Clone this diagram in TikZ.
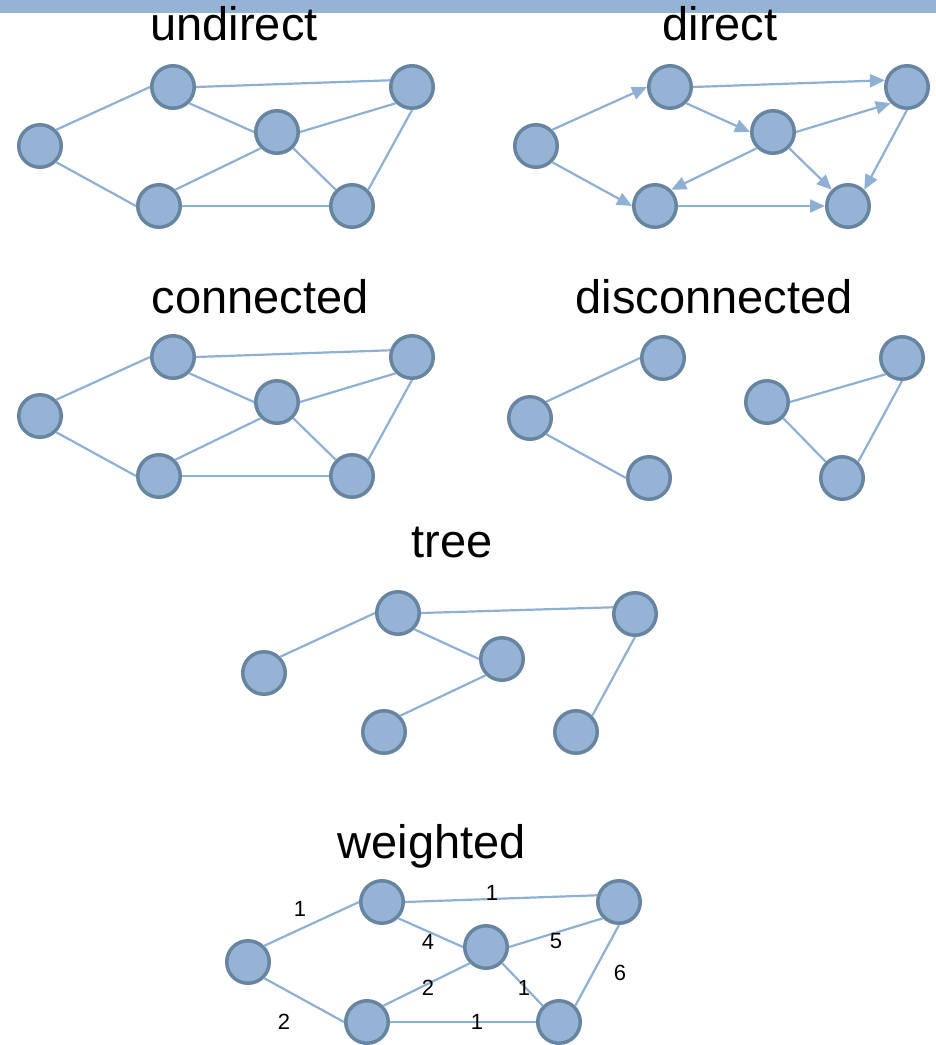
\documentclass[tikz,border=0pt]{standalone}
\usepackage{fontspec}
\setmainfont{Liberation Sans}
\usetikzlibrary{arrows.meta}
\definecolor{nodefill}{RGB}{149,179,213}
\definecolor{nodeline}{RGB}{103,133,161}
\definecolor{edgecol}{RGB}{143,176,210}

\begin{document}
\begin{tikzpicture}[x=1pt,y=-1pt,
  vtx/.style={circle, fill=nodefill, draw=nodeline, line width=3.5pt,
              minimum size=42.5pt, inner sep=0pt},
  link/.style={draw=edgecol, line width=2.2pt},
  darc/.style={link, -{Triangle[length=15pt,width=13pt]}},
  heading/.style={font=\fontsize{47}{56}\selectfont, anchor=base, inner sep=0pt},
  wlabel/.style={font=\fontsize{22}{26}\selectfont, inner sep=0pt}]

\useasboundingbox (0,0) rectangle (936,1045);
\fill[nodefill] (0,0) rectangle (936,13);

% headings
\node[heading] (h1) at (234,40) {undirect};
\node[heading] (h2) at (720,40) {direct};
\node[heading] (h3) at (260,313) {connected};
\node[heading] (h4) at (714,313) {disconnected};
\node[heading] (h5) at (452,557) {tree};
\node[heading] (h6) at (432,858) {weighted};

% undirected graph (edges attach at compass points of the circles)
\node[vtx] (u1) at (40,146) {};
\node[vtx] (u2) at (173,87) {};
\node[vtx] (u3) at (277,132) {};
\node[vtx] (u4) at (412,87) {};
\node[vtx] (u5) at (159,206) {};
\node[vtx] (u6) at (352,206) {};
\draw[link] (u1.north east) -- (u2.west);
\draw[link] (u1.south east) -- (u5.west);
\draw[link] (u2.east) -- (u4.163);
\draw[link] (u2.south east) -- (u3.west);
\draw[link] (u3.east) -- (u4.south west);
\draw[link] (u3.south west) -- (u5.north east);
\draw[link] (u3.south east) -- (u6.north west);
\draw[link] (u4.south) -- (u6.north east);
\draw[link] (u5.east) -- (u6.west);

% directed graph
\node[vtx] (d1) at (536,146) {};
\node[vtx] (d2) at (670,87) {};
\node[vtx] (d3) at (773,132) {};
\node[vtx] (d4) at (907,87) {};
\node[vtx] (d5) at (655,206) {};
\node[vtx] (d6) at (848,206) {};
\draw[darc] (d1.north east) -- (d2.west);
\draw[darc] (d1.south east) -- (d5.west);
\draw[darc] (d2.east) -- (d4.163);
\draw[darc] (d2.south east) -- (d3.west);
\draw[darc] (d3.east) -- (d4.south west);
\draw[darc] (d3.south west) -- (d5.north east);
\draw[darc] (d3.south east) -- (d6.north west);
\draw[darc] (d4.south) -- (d6.north east);
\draw[darc] (d5.east) -- (d6.west);

% connected graph
\node[vtx] (c1) at (40,416) {};
\node[vtx] (c2) at (173,357) {};
\node[vtx] (c3) at (277,402) {};
\node[vtx] (c4) at (412,357) {};
\node[vtx] (c5) at (159,476) {};
\node[vtx] (c6) at (352,476) {};
\draw[link] (c1.north east) -- (c2.west);
\draw[link] (c1.south east) -- (c5.west);
\draw[link] (c2.east) -- (c4.163);
\draw[link] (c2.south east) -- (c3.west);
\draw[link] (c3.east) -- (c4.south west);
\draw[link] (c3.south west) -- (c5.north east);
\draw[link] (c3.south east) -- (c6.north west);
\draw[link] (c4.south) -- (c6.north east);
\draw[link] (c5.east) -- (c6.west);

% disconnected graph: two components
\node[vtx] (p1) at (530,418) {};
\node[vtx] (p2) at (663,358) {};
\node[vtx] (p3) at (649,478) {};
\node[vtx] (q1) at (767,402) {};
\node[vtx] (q2) at (902,358) {};
\node[vtx] (q3) at (842,478) {};
\draw[link] (p1.north east) -- (p2.west);
\draw[link] (p1.south east) -- (p3.west);
\draw[link] (q1.east) -- (q2.south west);
\draw[link] (q1.south east) -- (q3.north west);
\draw[link] (q2.south) -- (q3.north east);

% tree
\node[vtx] (t1) at (264,673) {};
\node[vtx] (t2) at (398,613) {};
\node[vtx] (t3) at (502,659) {};
\node[vtx] (t4) at (635,614) {};
\node[vtx] (t5) at (384,732) {};
\node[vtx] (t6) at (576,732) {};
\draw[link] (t1.north east) -- (t2.west);
\draw[link] (t2.east) -- (t4.163);
\draw[link] (t2.south east) -- (t3.west);
\draw[link] (t3.south west) -- (t5.north east);
\draw[link] (t4.south) -- (t6.north east);

% weighted graph
\node[vtx] (w1) at (248,962) {};
\node[vtx] (w2) at (382,902) {};
\node[vtx] (w3) at (486,947) {};
\node[vtx] (w4) at (619,902) {};
\node[vtx] (w5) at (367,1022) {};
\node[vtx] (w6) at (559,1022) {};
\draw[link] (w1.north east) -- (w2.west);
\draw[link] (w1.south east) -- (w5.west);
\draw[link] (w2.east) -- (w4.163);
\draw[link] (w2.south east) -- (w3.west);
\draw[link] (w3.east) -- (w4.south west);
\draw[link] (w3.south west) -- (w5.north east);
\draw[link] (w3.south east) -- (w6.north west);
\draw[link] (w4.south) -- (w6.north east);
\draw[link] (w5.east) -- (w6.west);
\node[wlabel] (l12) at (300,909) {1};
\node[wlabel] (l24) at (492,893) {1};
\node[wlabel] (l23) at (428,942) {4};
\node[wlabel] (l34) at (556,941) {5};
\node[wlabel] (l46) at (620,973) {6};
\node[wlabel] (l35) at (428,988) {2};
\node[wlabel] (l36) at (524,988) {1};
\node[wlabel] (l15) at (284,1022) {2};
\node[wlabel] (l56) at (477,1022) {1};
\end{tikzpicture}
\end{document}
